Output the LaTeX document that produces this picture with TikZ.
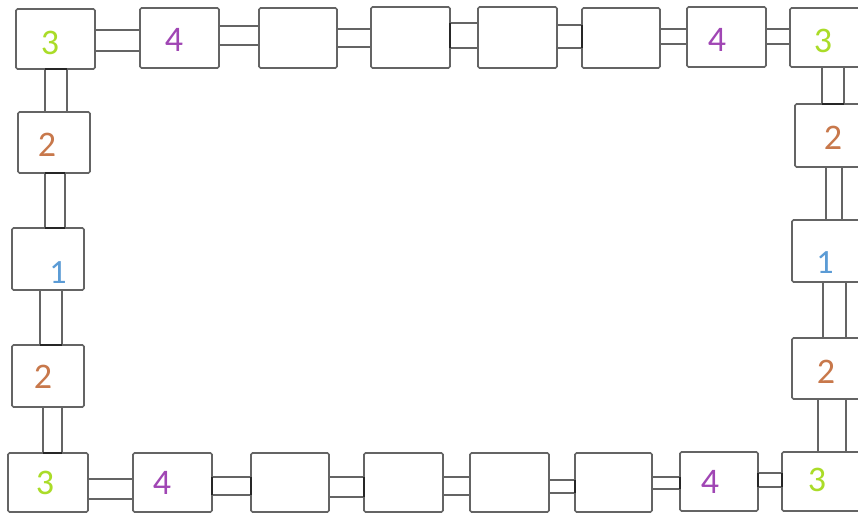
\documentclass[tikz,border=0pt]{standalone}
\usepackage{fontspec}
\setmainfont{Carlito}
\definecolor{lc}{RGB}{100,100,100}
\definecolor{cthree}{RGB}{170,220,40}
\definecolor{cfour}{RGB}{160,70,180}
\definecolor{ctwo}{RGB}{200,120,75}
\definecolor{cone}{RGB}{91,155,213}
\tikzset{
  box/.style={draw=lc, line width=1.6pt, rounded corners=1.5pt, outer sep=0pt, inner sep=0pt, anchor=north west, fill=white},
  bar/.style={draw=lc, line width=1.6pt},
  dk/.style={draw=black!85, line width=2pt},
  lab/.style={inner sep=0pt, font=\fontsize{36}{36}\selectfont},
  labs/.style={inner sep=0pt, font=\fontsize{34}{34}\selectfont}
}
\newcommand\bx[5]{\node[box, minimum width=#4pt-#2pt, minimum height=#5pt-#3pt] (#1) at (#2,#3) {};}
\newcommand\hconn[4]{\draw[bar] (#1.east |- 0,#3) -- (#2.west |- 0,#3) (#1.east |- 0,#4) -- (#2.west |- 0,#4);}
\newcommand\vconn[4]{\draw[bar] (#1.south -| #3,0) -- (#2.north -| #3,0) (#1.south -| #4,0) -- (#2.north -| #4,0);}
\begin{document}
\begin{tikzpicture}[x=1pt,y=-1pt]
\useasboundingbox (0,0) rectangle (858,516);
\clip (0,0) rectangle (858,516);
% top row
\bx{T1}{16}{9}{95}{69}
\bx{T2}{140}{8}{219}{68}
\bx{T3}{259}{8}{337}{68}
\bx{T4}{371}{7}{450}{68}
\bx{T5}{478}{7}{557}{68}
\bx{T6}{582}{8}{660}{68}
\bx{T7}{687}{7}{766}{67}
\bx{T8}{790}{8}{875}{67}
% right column
\bx{R1}{795}{104}{875}{167}
\bx{R2}{792}{220}{875}{282}
\bx{R3}{792}{338}{875}{399}
% left column
\bx{L1}{18}{112}{90}{173}
\bx{L2}{12}{228}{84}{290}
\bx{L3}{12}{345}{84}{407}
% bottom row
\bx{B1}{8}{453}{88}{512}
\bx{B2}{133}{453}{212}{512}
\bx{B3}{251}{453}{329}{512}
\bx{B4}{364}{453}{443}{512}
\bx{B5}{470}{453}{549}{512}
\bx{B6}{575}{453}{652}{512}
\bx{B7}{680}{452}{758}{511}
\bx{B8}{782}{452}{875}{511}
% top connectors
\hconn{T1}{T2}{30}{51}
\hconn{T2}{T3}{26}{45}
\hconn{T3}{T4}{29}{47}
\hconn{T4}{T5}{23}{48}
\draw[dk] (T4.east |- 0,23) -- (T4.east |- 0,48);
\hconn{T5}{T6}{25}{48}
\draw[dk] (T6.west |- 0,25) -- (T6.west |- 0,48);
\hconn{T6}{T7}{29}{44}
\hconn{T7}{T8}{29}{44}
% right connectors
\vconn{T8}{R1}{822}{844}
\draw[dk] (R1.north -| 822,0) -- (R1.north -| 844,0);
\vconn{R1}{R2}{826}{842}
\vconn{R2}{R3}{823}{846}
\vconn{R3}{B8}{818}{846}
% left connectors
\vconn{T1}{L1}{45}{67}
\draw[dk] (T1.south -| 45,0) -- (T1.south -| 67,0);
\vconn{L1}{L2}{45}{65}
\draw[dk] (L1.south -| 45,0) -- (L1.south -| 65,0);
\draw[dk] (L2.north -| 45,0) -- (L2.north -| 65,0);
\vconn{L2}{L3}{40}{62}
\draw[dk] (L3.north -| 40,0) -- (L3.north -| 62,0);
\vconn{L3}{B1}{43}{62}
\draw[dk] (B1.north -| 43,0) -- (B1.north -| 62,0);
% bottom connectors
\hconn{B1}{B2}{479}{499}
\hconn{B2}{B3}{477}{495}
\draw[dk] (B2.east |- 0,477) -- (B2.east |- 0,495);
\draw[dk] (B3.west |- 0,477) -- (B3.west |- 0,495);
\hconn{B3}{B4}{477}{497}
\draw[dk] (B4.west |- 0,477) -- (B4.west |- 0,497);
\hconn{B4}{B5}{477}{495}
\hconn{B5}{B6}{480}{493}
\draw[dk] (B6.west |- 0,480) -- (B6.west |- 0,493);
\hconn{B6}{B7}{477}{489}
\draw[dk] (B7.west |- 0,477) -- (B7.west |- 0,489);
\hconn{B7}{B8}{473}{487}
\draw[dk] (B7.east |- 0,473) -- (B7.east |- 0,487);
\draw[dk] (B8.west |- 0,473) -- (B8.west |- 0,487);
% labels
\node[lab, text=cthree] (tT1) at (50,43) {3};
\node[lab, text=cfour] (tT2) at (174,40) {4};
\node[lab, text=cfour] (tT7) at (717,40) {4};
\node[lab, text=cthree] (tT8) at (823,41) {3};
\node[lab, text=ctwo] (tR1) at (833,138) {2};
\node[labs, text=cone] (tR2) at (825,263) {1};
\node[lab, text=ctwo] (tR3) at (826,372) {2};
\node[lab, text=ctwo] (tL1) at (47,145) {2};
\node[labs, text=cone] (tL2) at (58,273) {1};
\node[lab, text=ctwo] (tL3) at (43,377) {2};
\node[lab, text=cthree] (tB1) at (45,483) {3};
\node[lab, text=cfour] (tB2) at (162,483) {4};
\node[lab, text=cfour] (tB7) at (710,482) {4};
\node[lab, text=cthree] (tB8) at (817,480) {3};
\end{tikzpicture}
\end{document}
